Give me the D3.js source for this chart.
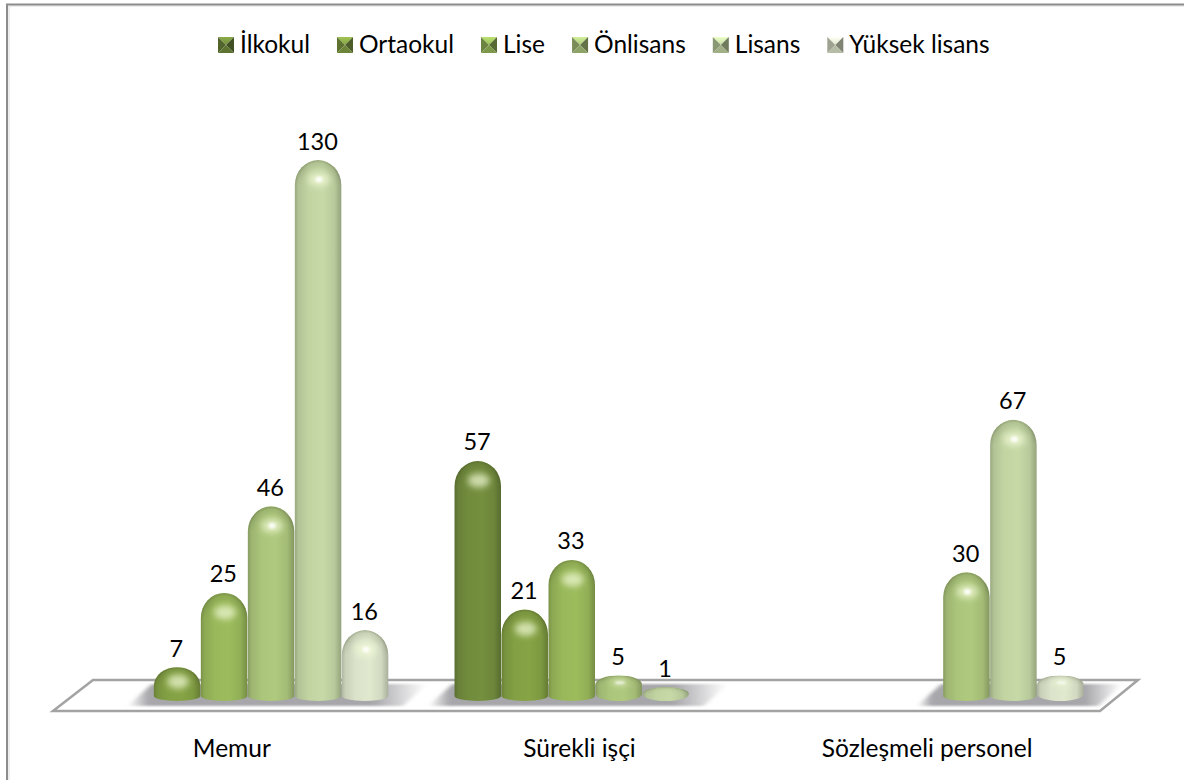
<!DOCTYPE html>
<html lang="tr">
<head>
<meta charset="utf-8">
<style>
  html, body { margin: 0; padding: 0; background: #fff; }
  svg { display: block; }
  text { font-family: Lato, "Open Sans", sans-serif; fill: #000; }
</style>
</head>
<body>
<svg id="chart"></svg>
<script src="https://cdn.jsdelivr.net/npm/d3@7"></script>
<script>
const categories = ['Memur', 'Sürekli işçi', 'Sözleşmeli personel'];
const seriesNames = ['İlkokul', 'Ortaokul', 'Lise', 'Önlisans', 'Lisans', 'Yüksek lisans'];
const ilkokul  = [null, 57, null];
const ortaokul = [7, 21, null];
const lise     = [25, 33, null];
const onlisans = [46, 5, 30];
const lisans   = [130, 1, 67];
const yuksek   = [16, null, 5];
const seriesValues = [ilkokul, ortaokul, lise, onlisans, lisans, yuksek];
const seriesColors = ['#748f3e', '#86a445', '#9cbc5c', '#afc97e', '#c6d9a6', '#e0e9ce'];

const W = 1184, H = 780;
const BASE_Y = 696;     // value 0
const BOTTOM_Y = 701;   // lowest point of a bar's rounded foot
const FLOOR = [[53, 711], [1100, 711], [1138, 680], [93, 680]];

const svg = d3.select('#chart').attr('width', W).attr('height', H);
const defs = svg.append('defs');

// ── Scales ────────────────────────────────────────────────────────────────
const x0 = d3.scaleBand().domain(categories).range([74, 1117]).paddingInner(0.189).paddingOuter(0.0945);
const x1 = d3.scaleBand().domain(seriesNames).range([0, x0.bandwidth()]);
const y = d3.scaleLinear().domain([0, 130]).range([BASE_Y, 160]);

// ── Gradients ─────────────────────────────────────────────────────────────
seriesColors.forEach((c, i) => {
    const col = d3.color(c);
    const body = defs.append('linearGradient').attr('id', `body-${i}`);
    [[0, col.darker(0.7)], [0.08, col.darker(0.3)], [0.3, col.darker(0.06)], [0.6, col],
     [0.85, col.darker(0.2)], [1, col.darker(0.8)]]
        .forEach(([o, k]) => body.append('stop').attr('offset', o).attr('stop-color', k));

    defs.append('linearGradient').attr('id', `keyTop-${i}`).attr('x1', 0).attr('x2', 0).attr('y1', 0).attr('y2', 1)
        .call(g => g.append('stop').attr('offset', 0).attr('stop-color', col.brighter(0.5)))
        .call(g => g.append('stop').attr('offset', 1).attr('stop-color', col));
});

// darkens the rim of the dome, centred on the dome's base line
const rim = defs.append('radialGradient').attr('id', 'rim')
    .attr('cx', 0.5).attr('cy', 1).attr('r', 1)
    .attr('gradientTransform', 'translate(0.5,1) scale(0.5,1) translate(-0.5,-1)');
[[0, 0], [0.6, 0.02], [0.88, 0.12], [1, 0.3]].forEach(([o, a]) =>
    rim.append('stop').attr('offset', o).attr('stop-color', '#2c3318').attr('stop-opacity', a));

// the rim fades out toward the dome's base so no seam shows on the cylinder
const rimFade = defs.append('linearGradient').attr('id', 'rimFade').attr('x1', 0).attr('x2', 0).attr('y1', 0).attr('y2', 1);
[[0, 1], [0.45, 1], [1, 0]].forEach(([o, a]) =>
    rimFade.append('stop').attr('offset', o).attr('stop-color', '#fff').attr('stop-opacity', a));
defs.append('mask').attr('id', 'rimMask').attr('maskContentUnits', 'objectBoundingBox')
    .append('rect').attr('width', 1).attr('height', 1).attr('fill', 'url(#rimFade)');

const shadowFade = defs.append('linearGradient').attr('id', 'shadowFade');
[[0, 0], [0.07, 0.85], [0.82, 0.85], [1, 0]].forEach(([o, a]) =>
    shadowFade.append('stop').attr('offset', o).attr('stop-color', '#98989d').attr('stop-opacity', a));

const blur = defs.append('filter').attr('id', 'soft').attr('x', '-10%').attr('y', '-60%').attr('width', '120%').attr('height', '220%');
blur.append('feGaussianBlur').attr('stdDeviation', '2.5 1');

const glow = defs.append('filter').attr('id', 'glow').attr('x', '-100%').attr('y', '-100%').attr('width', '300%').attr('height', '300%');
glow.append('feGaussianBlur').attr('stdDeviation', 3);

const glowSmall = defs.append('filter').attr('id', 'glowSmall').attr('x', '-100%').attr('y', '-100%').attr('width', '300%').attr('height', '300%');
glowSmall.append('feGaussianBlur').attr('stdDeviation', 1.2);

// ── Frame and floor ───────────────────────────────────────────────────────
svg.append('path').attr('d', `M9,${H}V6H${W}`)
    .attr('fill', 'none').attr('stroke', '#dcdcdc').attr('stroke-width', 1);
svg.append('path').attr('d', `M7,${H}V4.5H${W}`)
    .attr('fill', 'none').attr('stroke', '#8c8c8c').attr('stroke-width', 2);

svg.append('polygon')
    .attr('points', FLOOR.join(' '))
    .attr('fill', '#fff').attr('stroke', '#a3a3a3').attr('stroke-width', 2.5);

// ── Bars ──────────────────────────────────────────────────────────────────
const rows = seriesValues.flatMap((vals, s) => vals.map((v, c) => ({
    v, s, name: seriesNames[s], cat: categories[c],
}))).filter(d => d.v != null);

// shadow under each group
categories.forEach(cat => {
    const inGroup = rows.filter(d => d.cat === cat);
    const left = d3.min(inGroup, d => x0(cat) + x1(d.name));
    const right = d3.max(inGroup, d => x0(cat) + x1(d.name) + x1.bandwidth());
    svg.append('polygon')
        .attr('points', `${left - 26},706 ${right + 14},706 ${right + 38},684 ${left - 2},684`)
        .attr('fill', 'url(#shadowFade)')
        .attr('filter', 'url(#soft)');
});

// very short bars keep a minimum visible depth, like a disc lying on the floor
function barGeom(d) {
    const w = x1.bandwidth() - 0.5;
    const top = Math.min(y(d.v), BOTTOM_Y - 14);
    const h = BOTTOM_Y - top;
    let ry, ryB;
    if (h <= 14) { ry = h / 2; ryB = h / 2; }
    else if (h < 30) { ry = h * 0.36; ryB = 7; }
    else { ry = Math.min(25, h * 0.55); ryB = 5; }
    return { w, top, h, ry, ryB };
}

function barPath(d) {
    const { w, top, ry, ryB } = barGeom(d);
    return `M0,${top + ry}A${w / 2},${ry} 0 0 1 ${w},${top + ry}`
        + `V${BOTTOM_Y - ryB}A${w / 2},${ryB} 0 0 1 0,${BOTTOM_Y - ryB}Z`;
}

const bars = svg.append('g').selectAll('g')
    .data(rows)
    .join('g')
    .attr('transform', d => `translate(${x0(d.cat) + x1(d.name)},0)`);

bars.append('path')
    .attr('d', barPath)
    .attr('fill', d => `url(#body-${d.s})`);

// dome rim and highlight, clipped to the bar outline
bars.each(function(d, i) {
    const { w, top, h, ry } = barGeom(d);
    const clipId = `clip-${i}`;
    defs.append('clipPath').attr('id', clipId).append('path').attr('d', barPath(d));
    const sel = d3.select(this).append('g').attr('clip-path', `url(#${clipId})`);
    sel.append('path')
        .attr('d', `M0,${top + ry}A${w / 2},${ry} 0 0 1 ${w},${top + ry}Z`)
        .attr('fill', 'url(#rim)')
        .attr('mask', 'url(#rimMask)');
    const hy = top + ry * 0.78;
    if (h <= 14) return;
    sel.append('ellipse')
        .attr('cx', w / 2 + 1).attr('cy', hy)
        .attr('rx', h < 30 ? 9 : 11).attr('ry', h < 30 ? 2.5 : 7)
        .attr('fill', '#f4fbd8').attr('fill-opacity', 0.7)
        .attr('filter', 'url(#glow)');
    if (d.s >= 3) {
        sel.append('ellipse')
            .attr('cx', w / 2 + 1).attr('cy', hy)
            .attr('rx', h < 30 ? 5 : 3.5).attr('ry', h < 30 ? 1.2 : 3)
            .attr('fill', '#fff').attr('fill-opacity', 0.85)
            .attr('filter', 'url(#glowSmall)');
    }
});

// ── Value labels ──────────────────────────────────────────────────────────
svg.append('g').selectAll('text')
    .data(rows)
    .join('text')
    .attr('x', d => x0(d.cat) + x1(d.name) + x1.bandwidth() / 2 - 1)
    .attr('y', d => barGeom(d).top - 10.5)
    .attr('text-anchor', 'middle')
    .attr('font-size', 23.5)
    .text(d => d.v);

// ── Category labels ───────────────────────────────────────────────────────
svg.append('g').selectAll('text')
    .data(categories)
    .join('text')
    .attr('x', d => x0(d) + x0.bandwidth() / 2 - 16)
    .attr('y', 757)
    .attr('text-anchor', 'middle')
    .attr('font-size', 24.5)
    .text(d => d);

// ── Legend ────────────────────────────────────────────────────────────────
const KEY = 16, KEY_GAP = 6, ITEM_GAP = 27;
const legG = svg.append('g');
let legX = 218;
seriesNames.forEach((name, i) => {
    const col = d3.color(seriesColors[i]);
    const g = legG.append('g').attr('transform', `translate(${legX},37)`);
    const face = (pts, fill) => g.append('polygon').attr('points', pts).attr('fill', fill);
    face(`0,0 ${KEY},0 ${KEY / 2},${KEY / 2}`, `url(#keyTop-${i})`);
    face(`0,0 ${KEY / 2},${KEY / 2} 0,${KEY}`, col.darker(1));
    face(`${KEY},0 ${KEY / 2},${KEY / 2} ${KEY},${KEY}`, col.darker(1.6));
    face(`0,${KEY} ${KEY / 2},${KEY / 2} ${KEY},${KEY}`, col.darker(0.6));
    const t = g.append('text').attr('x', KEY + KEY_GAP).attr('y', 16)
        .attr('font-size', 24.5).text(name);
    legX += KEY + KEY_GAP + t.node().getComputedTextLength() + ITEM_GAP;
});
</script>
</body>
</html>
